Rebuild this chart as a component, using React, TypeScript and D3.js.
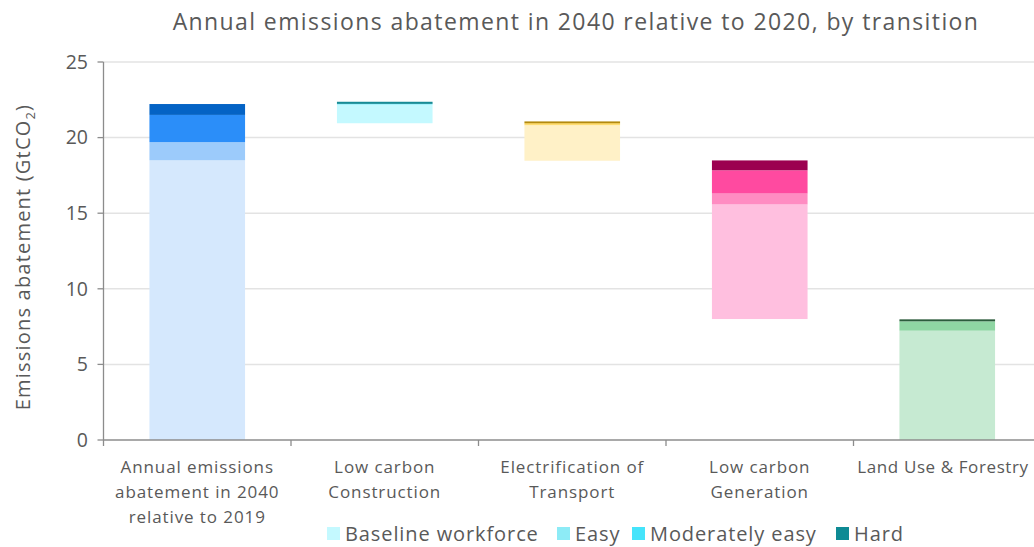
import React from "react";
import * as d3 from "d3";

const categories = [
  ["Annual emissions", "abatement in 2040", "relative to 2019"],
  ["Low carbon", "Construction"],
  ["Electrification of", "Transport"],
  ["Low carbon", "Generation"],
  ["Land Use & Forestry"],
];
// floating base of each bar
const bases = [0, 20.95, 18.47, 8.0, 0];
const baseline = [18.5, 1.25, 2.33, 7.58, 7.23];
const easy = [1.2, 0.0, 0.05, 0.72, 0.62];
const moderate = [1.8, 0.03, 0.1, 1.54, 0.0];
const hard = [0.72, 0.14, 0.12, 0.65, 0.13];

const seriesNames = ["Baseline workforce", "Easy", "Moderately easy", "Hard"];
const palettes = [
  ["#d5e8fd", "#9ccbfb", "#2b8ef9", "#0463c5"],
  ["#c4f9ff", "#8debf6", "#45e4fb", "#178c97"],
  ["#fff1c7", "#ffe59a", "#ffd34a", "#b38a0f"],
  ["#ffbfdf", "#ff8cc2", "#ff4aa0", "#9c0050"],
  ["#c6ead2", "#8fd6a3", "#5cc07d", "#2c5c3c"],
];
const legendColors = ["#c4f9ff", "#8debf6", "#45e4fb", "#0e8a94"];
const yTicks = [0, 5, 10, 15, 20, 25];

export default function App() {
  const W = 1034, H = 547;
  const left = 103.5, right = 1041, top = 62, bottom = 440;
  const x = d3.scaleBand<number>().domain(d3.range(5)).range([left, right]).paddingInner(0.49).paddingOuter(0.245);
  const y = d3.scaleLinear().domain([0, 25]).range([bottom, top]);
  const step = (right - left) / 5;
  const font = "'Open Sans', sans-serif";
  const txt = "#595959";
  const series = [baseline, easy, moderate, hard];

  return (
    <svg width={W} height={H} style={{ position: "absolute", left: 0, top: 0, background: "#fff" }}>
      <text x={576} y={30} textAnchor="middle" fontFamily={font} fontSize={23} letterSpacing={1.4} fill={txt}>
        Annual emissions abatement in 2040 relative to 2020, by transition
      </text>
      {yTicks.filter((t) => t > 0).map((t) => (
        <line key={"g" + t} x1={left} x2={W} y1={y(t)} y2={y(t)} stroke="#e3e3e3" strokeWidth={1.5} />
      ))}
      {categories.map((_, i) => {
        let acc = bases[i];
        return series.map((s, k) => {
          const y0 = acc;
          const y1 = acc + s[i];
          acc = y1;
          if (s[i] <= 0) return null;
          return (
            <rect key={i + "-" + k} x={x(i)} width={x.bandwidth()} y={y(y1)} height={y(y0) - y(y1)} fill={palettes[i][k]} />
          );
        });
      })}
      <line x1={left} x2={left} y1={top} y2={bottom} stroke="#8c8c8c" strokeWidth={1.3} />
      {yTicks.map((t) => (
        <g key={"t" + t}>
          <line x1={left - 6} x2={left} y1={y(t)} y2={y(t)} stroke="#8c8c8c" strokeWidth={1.3} />
          <text x={88} y={y(t)} dy="0.35em" textAnchor="end" fontFamily={font} fontSize={19.5} fill={txt}>{t}</text>
        </g>
      ))}
      <line x1={left} x2={W} y1={bottom} y2={bottom} stroke="#8c8c8c" strokeWidth={1.3} />
      {d3.range(6).map((i) => (
        <line key={"xt" + i} x1={left + i * step} x2={left + i * step} y1={bottom} y2={bottom + 6} stroke="#8c8c8c" strokeWidth={1.3} />
      ))}
      {categories.map((lines, i) => {
        const cx = Math.min((x(i) as number) + x.bandwidth() / 2, 943);
        return (
          <text key={"c" + i} x={cx} y={473} textAnchor="middle" fontFamily={font} fontSize={17} letterSpacing={i === 4 ? 0.6 : 0.9} fill={txt}>
            {lines.map((l, j) => (
              <tspan key={j} x={cx} dy={j === 0 ? 0 : 25}>{l}</tspan>
            ))}
          </text>
        );
      })}
      <text transform={`translate(30,${257}) rotate(-90)`} textAnchor="middle" fontFamily={font} fontSize={20} letterSpacing={1.2} fill={txt}>
        Emissions abatement (GtCO<tspan fontSize={13} dy={5}>2</tspan><tspan dy={-5}>)</tspan>
      </text>
      {(() => {
        const starts = [327, 557, 632, 836];
        return seriesNames.map((n, k) => (
          <g key={"l" + k}>
            <rect x={starts[k]} y={527} width={13} height={13} fill={legendColors[k]} />
            <text x={starts[k] + 18} y={541} fontFamily={font} fontSize={20} letterSpacing={0.9} fill={txt}>{n}</text>
          </g>
        ));
      })()}
    </svg>
  );
}
